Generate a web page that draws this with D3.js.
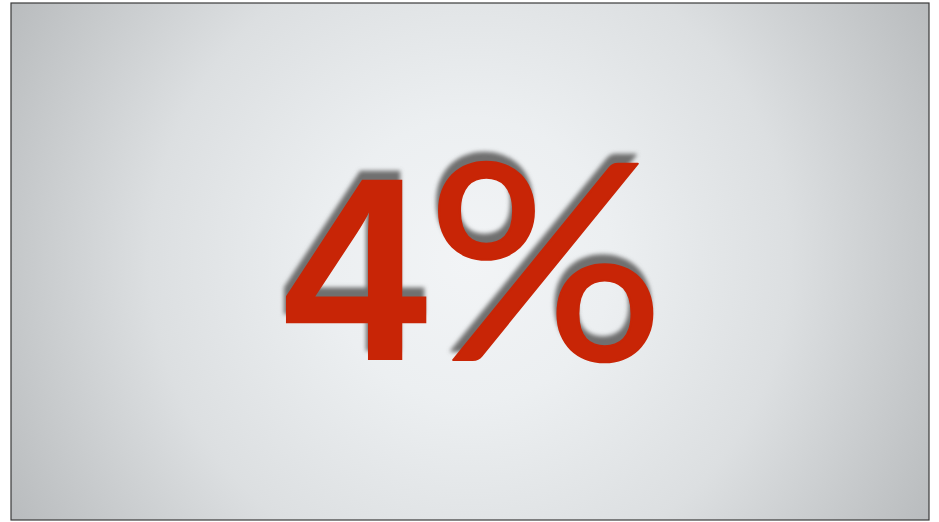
<!DOCTYPE html>
<html>
<head>
<meta charset="utf-8">
<script src="https://cdn.jsdelivr.net/npm/d3@7"></script>
<style>
  body { margin: 0; background: #ffffff; }
  svg { display: block; }
</style>
</head>
<body>
<div id="chart"></div>
<script>
// data
var values = [4];
var suffixes = ["%"];

var width = 939;
var height = 522;
var frame = { x: 11, y: 3, w: 918, h: 517 };

var svg = d3.select("#chart")
  .append("svg")
  .attr("width", width)
  .attr("height", height);

var defs = svg.append("defs");

// Hintergrund: radial heller in der Mitte
var grad = defs.append("radialGradient")
  .attr("id", "bg")
  .attr("gradientUnits", "userSpaceOnUse")
  .attr("cx", 470)
  .attr("cy", 260)
  .attr("r", 525);
grad.append("stop").attr("offset", "0%").attr("stop-color", "#f2f4f6");
grad.append("stop").attr("offset", "27%").attr("stop-color", "#eceff1");
grad.append("stop").attr("offset", "61%").attr("stop-color", "#dcdfe1");
grad.append("stop").attr("offset", "100%").attr("stop-color", "#b9bcbe");

var blur = defs.append("filter")
  .attr("id", "soft")
  .attr("x", "-10%").attr("y", "-10%")
  .attr("width", "120%").attr("height", "120%");
blur.append("feGaussianBlur").attr("stdDeviation", 2.2);

// Rahmen
svg.append("rect")
  .attr("x", frame.x)
  .attr("y", frame.y)
  .attr("width", frame.w)
  .attr("height", frame.h)
  .attr("fill", "url(#bg)")
  .attr("stroke", "#3a3a3a")
  .attr("stroke-width", 1.2);

var x = d3.scaleBand()
  .domain(values)
  .range([frame.x, frame.x + frame.w]);

var baseline = 360;
var halfWidth = 188;   // Zahl beginnt links von der Mitte
var pctGap = 144;      // Abstand Zahl -> Prozentzeichen

// Zahl + Prozentzeichen, einmal als Schatten, einmal rot
function bigNumber(cls, dx, dy, fill, filter) {
  var g = svg.append("g").attr("class", cls);
  if (filter) g.attr("filter", filter);

  g.selectAll("text.num")
    .data(values)
    .enter()
    .append("text")
    .attr("class", "num")
    .attr("x", function (d) { return x(d) + x.bandwidth() / 2 - halfWidth + dx; })
    .attr("y", baseline + dy)
    .attr("font-family", "'Liberation Sans', Arial, Helvetica, sans-serif")
    .attr("font-weight", "bold")
    .attr("font-size", 262)
    .attr("fill", fill)
    .text(function (d) { return d; });

  g.selectAll("text.pct")
    .data(values)
    .enter()
    .append("text")
    .attr("class", "pct")
    .attr("transform", function (d) {
      var px = x(d) + x.bandwidth() / 2 - halfWidth + pctGap + dx;
      return "translate(" + px + "," + (baseline + dy) + ") scale(1.09,1)";
    })
    .attr("font-family", "Lato, sans-serif")
    .attr("font-weight", 400)
    .attr("font-size", 274)
    .attr("fill", fill)
    .attr("stroke", fill)
    .attr("stroke-width", 2)
    .attr("stroke-linejoin", "round")
    .text(function (d, i) { return suffixes[i]; });
}

bigNumber("shadow", -2, -9, "#6f6f6f", "url(#soft)");
bigNumber("value", 0, 0, "#c82506", null);
</script>
</body>
</html>
